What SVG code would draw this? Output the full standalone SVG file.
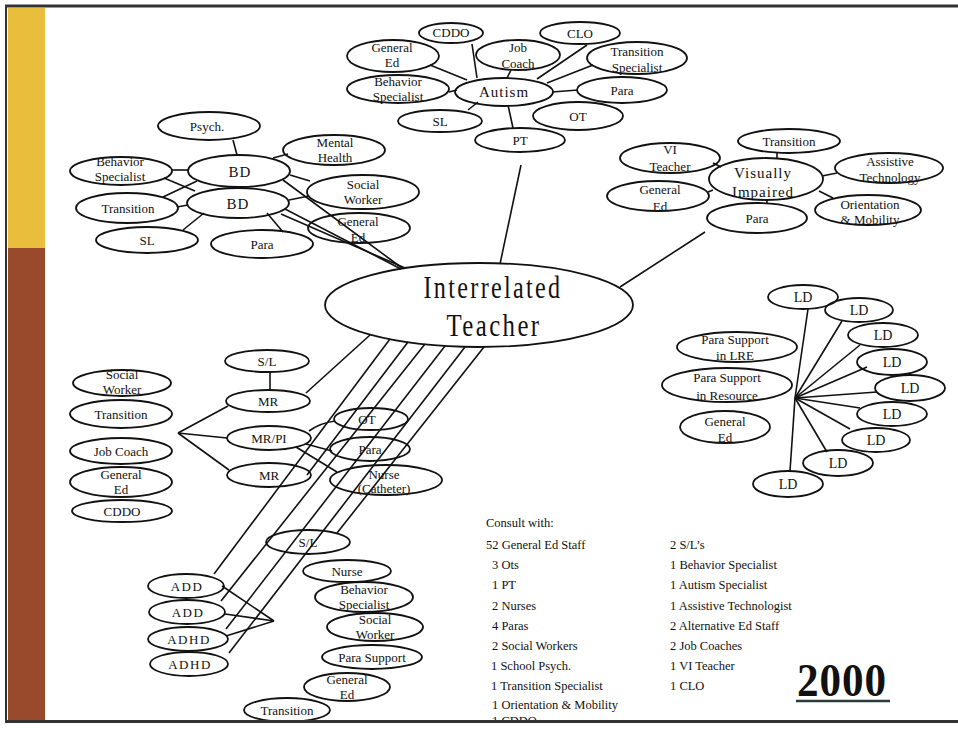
<svg xmlns="http://www.w3.org/2000/svg" width="958" height="730" viewBox="0 0 958 730">
<style>
.n ellipse{fill:none;stroke:#111;stroke-width:1.8}
text{font-family:"Liberation Serif","Times New Roman",serif;fill:#111}
.l{font-size:13px;text-anchor:middle}
.b{font-size:15px;text-anchor:middle;letter-spacing:1px}
.ld{font-size:14px;text-anchor:middle}
.c{font-size:12.5px}
#connectors line,#connectors path{stroke:#111;stroke-width:1.6;fill:none}
</style>
<rect x="0" y="0" width="958" height="730" fill="#fff"/>
<g id="frame">
<rect x="8" y="8" width="37" height="240" fill="#E8BE3C"/>
<rect x="8" y="248" width="37" height="472" fill="#9A4A2C"/>
<line x1="5" y1="6" x2="958" y2="6" stroke="#333" stroke-width="3"/>
<line x1="6" y1="5" x2="6" y2="722" stroke="#333" stroke-width="2"/>
</g>

<g id="connectors">
<!-- Autism cluster -->
<line x1="430" y1="65" x2="467" y2="80"/>
<line x1="472" y1="44" x2="477" y2="78"/>
<line x1="511" y1="70" x2="507" y2="78"/>
<line x1="587" y1="45" x2="537" y2="79"/>
<line x1="593" y1="65" x2="547" y2="83"/>
<line x1="449" y1="92" x2="457" y2="90"/>
<line x1="552" y1="92" x2="578" y2="90"/>
<line x1="468" y1="110" x2="478" y2="102"/>
<line x1="508" y1="105" x2="513" y2="128"/>
<line x1="521" y1="165" x2="500" y2="264"/>
<!-- BD cluster -->
<line x1="233" y1="140" x2="237" y2="155"/>
<line x1="273" y1="158" x2="288" y2="154"/>
<line x1="172" y1="170" x2="188" y2="170"/>
<line x1="164" y1="178" x2="195" y2="191"/>
<line x1="163" y1="197" x2="197" y2="181"/>
<line x1="177" y1="207" x2="188" y2="205"/>
<line x1="183" y1="230" x2="204" y2="213"/>
<line x1="267" y1="213" x2="283" y2="232"/>
<line x1="290" y1="175" x2="310" y2="181"/>
<line x1="289" y1="200" x2="309" y2="196"/>
<line x1="283" y1="180" x2="402" y2="268"/>
<line x1="285" y1="209" x2="401" y2="269"/>
<line x1="281" y1="214" x2="405" y2="268"/>
<!-- VI cluster -->
<line x1="777" y1="153" x2="777" y2="159"/>
<line x1="713" y1="163" x2="721" y2="167"/>
<line x1="822" y1="176" x2="837" y2="173"/>
<line x1="708" y1="192" x2="713" y2="190"/>
<line x1="819" y1="191" x2="833" y2="198"/>
<line x1="767" y1="200" x2="767" y2="204"/>
<line x1="705" y1="232" x2="620" y2="287"/>
<!-- LD cluster -->
<line x1="795" y1="398" x2="808" y2="309"/>
<line x1="795" y1="398" x2="842" y2="321"/>
<line x1="795" y1="398" x2="860" y2="345"/>
<line x1="795" y1="398" x2="867" y2="367"/>
<line x1="795" y1="398" x2="877" y2="392"/>
<line x1="795" y1="398" x2="860" y2="408"/>
<line x1="795" y1="398" x2="850" y2="429"/>
<line x1="795" y1="398" x2="827" y2="452"/>
<line x1="795" y1="398" x2="790" y2="471"/>
<!-- MR cluster -->
<line x1="270" y1="372" x2="270" y2="390"/>
<line x1="178" y1="433" x2="228" y2="406"/>
<line x1="178" y1="433" x2="227" y2="438"/>
<line x1="178" y1="433" x2="229" y2="470"/>
<path d="M309 431 Q320 423 335 421"/>
<line x1="306" y1="444" x2="332" y2="451"/>
<line x1="296" y1="447" x2="337" y2="472"/>
<!-- Interrelated Teacher spokes -->
<line x1="370" y1="335" x2="306" y2="393"/>
<line x1="390" y1="339" x2="214" y2="574"/>
<line x1="408" y1="342" x2="307" y2="475"/>
<line x1="425" y1="344" x2="221" y2="601"/>
<line x1="445" y1="346" x2="226" y2="629"/>
<line x1="465" y1="347" x2="229" y2="653"/>
<line x1="484" y1="347" x2="337" y2="533"/>
<!-- ADD bracket -->
<line x1="222" y1="586" x2="274" y2="621"/>
<line x1="225" y1="614" x2="274" y2="621"/>
<line x1="226" y1="636" x2="274" y2="621"/>
</g>

<g id="interrelated-teacher" class="n">
<ellipse cx="479" cy="305" rx="154" ry="42"/>
<text x="493" y="298" font-size="31" text-anchor="middle" textLength="139" lengthAdjust="spacingAndGlyphs" letter-spacing="3">Interrelated</text>
<text x="494" y="336" font-size="31" text-anchor="middle" textLength="95" lengthAdjust="spacingAndGlyphs" letter-spacing="3">Teacher</text>
</g>

<!-- Autism cluster -->
<g id="autism" class="n"><ellipse cx="504" cy="92" rx="49" ry="14"/><text class="b" x="504" y="97">Autism</text></g>
<g id="autism-cddo" class="n"><ellipse cx="451" cy="33" rx="32" ry="10"/><text class="l" x="451" y="37">CDDO</text></g>
<g id="autism-clo" class="n"><ellipse cx="580" cy="33" rx="40" ry="11"/><text class="l" x="580" y="38">CLO</text></g>
<g id="autism-general-ed" class="n"><ellipse cx="393" cy="56" rx="46" ry="16"/><text class="l" x="392" y="52">General</text><text class="l" x="392" y="67">Ed</text></g>
<g id="autism-job-coach" class="n"><ellipse cx="518" cy="55" rx="42" ry="15"/><text class="l" x="518" y="52">Job</text><text class="l" x="518" y="68">Coach</text></g>
<g id="autism-transition-specialist" class="n"><ellipse cx="637" cy="58" rx="50" ry="16"/><text class="l" x="637" y="56">Transition</text><text class="l" x="637" y="72">Specialist</text></g>
<g id="autism-behavior-specialist" class="n"><ellipse cx="398" cy="89" rx="51" ry="14"/><text class="l" x="398" y="86">Behavior</text><text class="l" x="398" y="101">Specialist</text></g>
<g id="autism-para" class="n"><ellipse cx="622" cy="90" rx="45" ry="13"/><text class="l" x="622" y="95">Para</text></g>
<g id="autism-sl" class="n"><ellipse cx="440" cy="121" rx="42" ry="11"/><text class="l" x="440" y="126">SL</text></g>
<g id="autism-ot" class="n"><ellipse cx="578" cy="116" rx="45" ry="14"/><text class="l" x="578" y="121">OT</text></g>
<g id="autism-pt" class="n"><ellipse cx="520" cy="140" rx="45" ry="12"/><text class="l" x="520" y="145">PT</text></g>

<!-- BD cluster -->
<g id="bd-top" class="n"><ellipse cx="239" cy="171" rx="51" ry="16"/><text class="b" x="240" y="177">BD</text></g>
<g id="bd-bottom" class="n"><ellipse cx="238" cy="203" rx="51" ry="15"/><text class="b" x="238" y="209">BD</text></g>
<g id="bd-psych" class="n"><ellipse cx="209" cy="126" rx="51" ry="14"/><text class="l" x="207" y="131">Psych.</text></g>
<g id="bd-mental-health" class="n"><ellipse cx="334" cy="150" rx="51" ry="15"/><text class="l" x="335" y="147">Mental</text><text class="l" x="335" y="162">Health</text></g>
<g id="bd-behavior-specialist" class="n"><ellipse cx="121" cy="171" rx="51" ry="14"/><text class="l" x="120" y="166">Behavior</text><text class="l" x="120" y="181">Specialist</text></g>
<g id="bd-social-worker" class="n"><ellipse cx="363" cy="192" rx="56" ry="17"/><text class="l" x="363" y="189">Social</text><text class="l" x="363" y="204">Worker</text></g>
<g id="bd-transition" class="n"><ellipse cx="127" cy="208" rx="51" ry="15"/><text class="l" x="128" y="213">Transition</text></g>
<g id="bd-general-ed" class="n"><ellipse cx="359" cy="228" rx="51" ry="15"/><text class="l" x="358" y="226">General</text><text class="l" x="358" y="242">Ed</text></g>
<g id="bd-sl" class="n"><ellipse cx="147" cy="240" rx="51" ry="13"/><text class="l" x="147" y="245">SL</text></g>
<g id="bd-para" class="n"><ellipse cx="262" cy="244" rx="51" ry="14"/><text class="l" x="262" y="249">Para</text></g>

<!-- VI cluster -->
<g id="vi" class="n"><ellipse cx="766" cy="179" rx="57" ry="21"/><text class="b" x="763" y="178">Visually</text><text class="b" x="763" y="197">Impaired</text></g>
<g id="vi-transition" class="n"><ellipse cx="789" cy="141" rx="51" ry="12"/><text class="l" x="789" y="146">Transition</text></g>
<g id="vi-teacher" class="n"><ellipse cx="670" cy="158" rx="50" ry="15"/><text class="l" x="670" y="154">VI</text><text class="l" x="670" y="171">Teacher</text></g>
<g id="vi-assistive-technology" class="n"><ellipse cx="889" cy="168" rx="54" ry="15"/><text class="l" x="890" y="166">Assistive</text><text class="l" x="890" y="182">Technology</text></g>
<g id="vi-general-ed" class="n"><ellipse cx="658" cy="196" rx="51" ry="15"/><text class="l" x="660" y="194">General</text><text class="l" x="660" y="211">Ed</text></g>
<g id="vi-orientation-mobility" class="n"><ellipse cx="868" cy="210" rx="53" ry="15"/><text class="l" x="870" y="209">Orientation</text><text class="l" x="870" y="224">&amp; Mobility</text></g>
<g id="vi-para" class="n"><ellipse cx="757" cy="218" rx="50" ry="15"/><text class="l" x="757" y="223">Para</text></g>

<!-- LD cluster -->
<g id="ld-1" class="n"><ellipse cx="803" cy="297" rx="35" ry="12"/><text class="ld" x="803" y="302">LD</text></g>
<g id="ld-2" class="n"><ellipse cx="859" cy="310" rx="34" ry="12"/><text class="ld" x="859" y="315">LD</text></g>
<g id="ld-3" class="n"><ellipse cx="883" cy="335" rx="35" ry="12"/><text class="ld" x="883" y="340">LD</text></g>
<g id="ld-4" class="n"><ellipse cx="892" cy="362" rx="35" ry="13"/><text class="ld" x="892" y="367">LD</text></g>
<g id="ld-5" class="n"><ellipse cx="910" cy="388" rx="35" ry="13"/><text class="ld" x="910" y="393">LD</text></g>
<g id="ld-6" class="n"><ellipse cx="892" cy="414" rx="35" ry="12"/><text class="ld" x="892" y="419">LD</text></g>
<g id="ld-7" class="n"><ellipse cx="876" cy="440" rx="34" ry="12"/><text class="ld" x="876" y="445">LD</text></g>
<g id="ld-8" class="n"><ellipse cx="838" cy="463" rx="35" ry="13"/><text class="ld" x="838" y="468">LD</text></g>
<g id="ld-9" class="n"><ellipse cx="788" cy="484" rx="35" ry="13"/><text class="ld" x="788" y="489">LD</text></g>
<g id="ld-para-support-lre" class="n"><ellipse cx="737" cy="347" rx="60" ry="15"/><text class="l" x="735" y="344">Para Support</text><text class="l" x="735" y="360">in LRE</text></g>
<g id="ld-para-support-resource" class="n"><ellipse cx="727" cy="385" rx="65" ry="17"/><text class="l" x="727" y="382">Para Support</text><text class="l" x="727" y="400">in Resource</text></g>
<g id="ld-general-ed" class="n"><ellipse cx="725" cy="427" rx="45" ry="16"/><text class="l" x="725" y="426">General</text><text class="l" x="725" y="442">Ed</text></g>

<!-- MR cluster -->
<g id="mr-sl" class="n"><ellipse cx="267" cy="361" rx="42" ry="11"/><text class="l" x="267" y="366">S/L</text></g>
<g id="mr-top" class="n"><ellipse cx="268" cy="401" rx="42" ry="11"/><text class="l" x="268" y="406">MR</text></g>
<g id="mr-pi" class="n"><ellipse cx="269" cy="438" rx="42" ry="12"/><text class="l" x="269" y="443">MR/PI</text></g>
<g id="mr-bottom" class="n"><ellipse cx="269" cy="475" rx="42" ry="12"/><text class="l" x="269" y="480">MR</text></g>
<g id="mr-ot" class="n"><ellipse cx="371" cy="419" rx="37" ry="11"/><text class="l" x="367" y="424">OT</text></g>
<g id="mr-para" class="n"><ellipse cx="370" cy="449" rx="40" ry="12"/><text class="l" x="370" y="454">Para</text></g>
<g id="mr-nurse" class="n"><ellipse cx="386" cy="480" rx="56" ry="15"/><text class="l" x="384" y="479">Nurse</text><text class="l" x="384" y="493">(Catheter)</text></g>
<g id="mr-social-worker" class="n"><ellipse cx="122" cy="383" rx="49" ry="13"/><text class="l" x="122" y="379">Social</text><text class="l" x="122" y="394">Worker</text></g>
<g id="mr-transition" class="n"><ellipse cx="121" cy="414" rx="51" ry="14"/><text class="l" x="121" y="419">Transition</text></g>
<g id="mr-job-coach" class="n"><ellipse cx="121" cy="451" rx="51" ry="13"/><text class="l" x="121" y="456">Job Coach</text></g>
<g id="mr-general-ed" class="n"><ellipse cx="121" cy="482" rx="51" ry="15"/><text class="l" x="121" y="479">General</text><text class="l" x="121" y="494">Ed</text></g>
<g id="mr-cddo" class="n"><ellipse cx="122" cy="511" rx="50" ry="11"/><text class="l" x="122" y="516">CDDO</text></g>

<!-- ADD cluster -->
<g id="add-1" class="n"><ellipse cx="186" cy="586" rx="38" ry="12"/><text class="l" x="187" y="591" letter-spacing="1.5">ADD</text></g>
<g id="add-2" class="n"><ellipse cx="187" cy="612" rx="38" ry="12"/><text class="l" x="188" y="617" letter-spacing="1.5">ADD</text></g>
<g id="adhd-1" class="n"><ellipse cx="188" cy="639" rx="40" ry="12"/><text class="l" x="189" y="644" letter-spacing="1.5">ADHD</text></g>
<g id="adhd-2" class="n"><ellipse cx="189" cy="664" rx="39" ry="12"/><text class="l" x="190" y="669" letter-spacing="1.5">ADHD</text></g>
<g id="add-sl" class="n"><ellipse cx="308" cy="542" rx="42" ry="12"/><text class="l" x="308" y="547">S/L</text></g>
<g id="add-nurse" class="n"><ellipse cx="347" cy="571" rx="44" ry="11"/><text class="l" x="347" y="576">Nurse</text></g>
<g id="add-behavior-specialist" class="n"><ellipse cx="364" cy="597" rx="49" ry="15"/><text class="l" x="364" y="594">Behavior</text><text class="l" x="364" y="609">Specialist</text></g>
<g id="add-social-worker" class="n"><ellipse cx="375" cy="627" rx="48" ry="14"/><text class="l" x="375" y="624">Social</text><text class="l" x="375" y="639">Worker</text></g>
<g id="add-para-support" class="n"><ellipse cx="372" cy="657" rx="50" ry="12"/><text class="l" x="372" y="662">Para Support</text></g>
<g id="add-general-ed" class="n"><ellipse cx="347" cy="687" rx="43" ry="14"/><text class="l" x="347" y="684">General</text><text class="l" x="347" y="699">Ed</text></g>
<g id="add-transition" class="n"><ellipse cx="287" cy="710" rx="43" ry="12"/><text class="l" x="287" y="715">Transition</text></g>

<!-- Consult list -->
<g id="consult">
<text class="c" x="486" y="527">Consult with:</text>
<text class="c" x="486" y="549">52 General Ed Staff</text>
<text class="c" x="492" y="569">3  Ots</text>
<text class="c" x="492" y="589">1  PT</text>
<text class="c" x="492" y="610">2  Nurses</text>
<text class="c" x="492" y="630">4  Paras</text>
<text class="c" x="492" y="650">2  Social Workers</text>
<text class="c" x="491" y="670">1 School Psych.</text>
<text class="c" x="491" y="690">1 Transition Specialist</text>
<text class="c" x="492" y="709">1  Orientation &amp; Mobility</text>
<text class="c" x="492" y="725">1  CDDO</text>
<text class="c" x="670" y="549">2  S/L’s</text>
<text class="c" x="670" y="569">1  Behavior Specialist</text>
<text class="c" x="670" y="589">1  Autism Specialist</text>
<text class="c" x="670" y="610">1  Assistive Technologist</text>
<text class="c" x="670" y="630">2  Alternative Ed Staff</text>
<text class="c" x="670" y="650">2  Job Coaches</text>
<text class="c" x="670" y="670">1  VI Teacher</text>
<text class="c" x="670" y="690">1  CLO</text>
</g>
<g id="year">
<text x="842" y="696" font-size="46" font-weight="bold" text-anchor="middle" fill="#2E3B3B" letter-spacing="1" textLength="90" lengthAdjust="spacingAndGlyphs">2000</text>
<line x1="796" y1="701" x2="890" y2="701" stroke="#2E3B3B" stroke-width="2.5"/>
</g>
<rect x="0" y="723" width="958" height="7" fill="#fff"/>
<line x1="5" y1="721.5" x2="958" y2="721.5" stroke="#333" stroke-width="3"/>
</svg>
